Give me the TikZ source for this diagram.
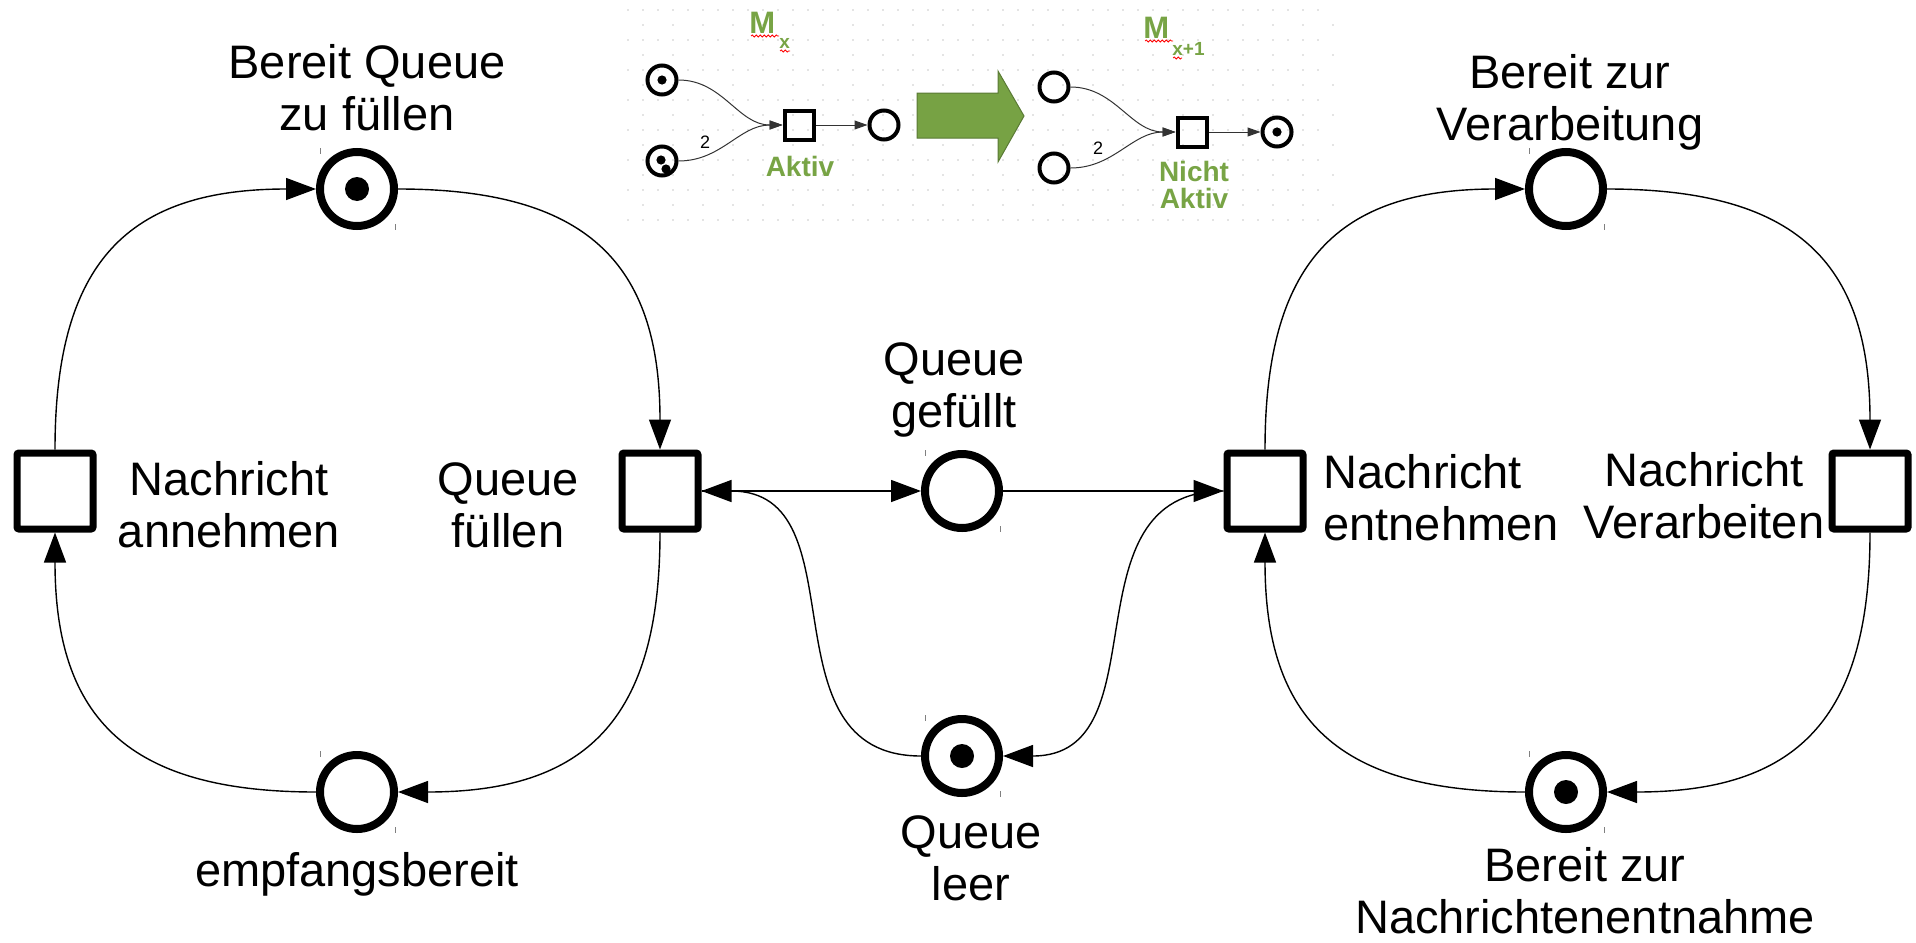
\documentclass[tikz,border=0pt]{standalone}
\usepackage{fontspec}
\setmainfont{Liberation Sans}
\usetikzlibrary{arrows.meta,decorations.pathmorphing}
\definecolor{lgreen}{HTML}{78A445}
\definecolor{agreen}{HTML}{77A244}
\definecolor{aedge}{HTML}{5A7A35}
\definecolor{dotc}{HTML}{C8C8C8}
\begin{document}
\begin{tikzpicture}[x=0.5pt,y=-0.5pt,
  place/.style={circle,draw,line width=4pt,minimum size=37pt,inner sep=0pt},
  trans/.style={rectangle,draw,line width=3.5pt,minimum size=38pt,inner sep=0pt,rounded corners=1pt},
  marked/.style={path picture={\fill (path picture bounding box.center) circle[radius=6pt];}},
  arc/.style={line width=0.7pt,-{Triangle[length=15pt,width=11pt]}},
  loop/.style={arc,looseness=1.3},
  lbl/.style={font=\fontsize{23.5}{26}\selectfont,align=center,inner sep=0pt},
  tick/.style={gray,line width=0.5pt},
  iplace/.style={circle,draw,line width=2pt,minimum size=14.5pt,inner sep=0pt},
  itrans/.style={rectangle,draw,line width=2pt,minimum size=14.5pt,inner sep=0pt},
  itok/.style={path picture={\fill (path picture bounding box.center) circle[radius=2.3pt];}},
  itoktwo/.style={path picture={\fill ([shift={(-1,-1)}]path picture bounding box.center) circle[radius=2.3pt];
                               \fill ([shift={(4,8)}]path picture bounding box.center) circle[radius=2.3pt];}},
  iarc/.style={line width=0.5pt,black!80,-{Triangle[length=6.5pt,width=4.5pt]}},
  ilbl/.style={font=\fontsize{9}{10}\selectfont,inner sep=0pt},
  glbl/.style={font=\fontsize{14}{13.5}\selectfont\bfseries,text=lgreen,align=center,inner sep=0pt},
  wavy/.style={red,line width=0.4pt,decorate,decoration={snake,amplitude=0.5pt,segment length=2pt}}
]
\useasboundingbox (0,0) rectangle (1916,942);
% dotted grid of inset
\foreach \j in {0,...,14}{
  \pgfmathtruncatemacro{\odd}{mod(\j,2)}
  \ifnum\odd=0
    \foreach \i in {0,...,46}{\fill[dotc] (628+15*\i,10+15*\j) circle[radius=0.45pt];}
  \else
    \foreach \i in {0,...,23}{\fill[dotc] (643+30*\i,10+15*\j) circle[radius=0.45pt];}
  \fi
}
% main net
\node[trans] (na) at (55,491) {};
\node[place,marked] (bq) at (357,189) {};
\node[trans] (qf) at (660,491) {};
\node[place] (eb) at (357,792) {};
\node[place] (qg) at (962,491) {};
\node[place,marked] (ql) at (962,756) {};
\node[trans] (ne) at (1265,491) {};
\node[place] (bv) at (1566,189) {};
\node[trans] (nv) at (1870,491) {};
\node[place,marked] (bn) at (1566,792) {};
\foreach \p in {bq,eb,qg,ql,bv,bn}{
  \draw[tick] ([shift={(-37,-41)}]\p.center) -- ++(0,6);
  \draw[tick] ([shift={(38,35)}]\p.center) -- ++(0,6);
}
\draw[loop] (na.north) to[out=90,in=180] (bq.west);
\draw[loop] (bq.east) to[out=0,in=90] (qf.north);
\draw[loop] (qf.south) to[out=-90,in=0] (eb.east);
\draw[loop] (eb.west) to[out=180,in=-90] (na.south);
\draw[loop] (ne.north) to[out=90,in=180] (bv.west);
\draw[loop] (bv.east) to[out=0,in=90] (nv.north);
\draw[loop] (nv.south) to[out=-90,in=0] (bn.east);
\draw[loop] (bn.west) to[out=180,in=-90] (ne.south);
\draw[arc] (qf.east) -- (qg.west);
\draw[arc] (qg.east) -- (ne.west);
\draw[arc] (ql.west) to[out=180,in=0,looseness=1.2] (qf.east);
\draw[arc] (ne.west) to[out=180,in=0,looseness=1.2] (ql.east);
% labels
\node[lbl] (lbq) at (367,88) {Bereit Queue\\zu füllen};
\node[lbl] (lna) at (229,505) {Nachricht\\annehmen};
\node[lbl] (lqf) at (508,505) {Queue\\füllen};
\node[lbl] (lqg) at (954,390) {Queue\\gefüllt};
\node[lbl,align=left,anchor=west] (lne) at (1323,498) {Nachricht\\entnehmen};
\node[lbl] (lnv) at (1704,496) {Nachricht\\Verarbeiten};
\node[lbl] (leb) at (357,874) {empfangsbereit};
\node[lbl] (lql) at (971,858) {Queue\\leer};
\node[lbl] (lbv) at (1570,102) {Bereit zur\\Verarbeitung};
\node[lbl] (lbn) at (1585,891) {Bereit zur\\Nachrichtenentnahme};
% inset
\filldraw[fill=agreen,draw=aedge,line width=0.5pt] (917,93) -- (998,93) -- (998,71) -- (1024,116) -- (998,162) -- (998,138) -- (917,138) -- cycle;
\node[iplace,itok] (a1) at (662,80) {};
\node[iplace,itoktwo] (a2) at (662,161) {};
\node[itrans] (at) at (799,125) {};
\node[iplace] (ao) at (884,125) {};
\draw[iarc] (a1.east) to[out=0,in=180] (at.west);
\draw[iarc] (a2.east) to[out=0,in=180] (at.west);
\draw[iarc] (at.east) -- (ao.west);
\node[ilbl] (a2l) at (705,142) {2};
\node[glbl] (aakt) at (800,166) {Aktiv};
\node[iplace] (b1) at (1054,87) {};
\node[iplace] (b2) at (1054,168) {};
\node[itrans] (bt) at (1192,132) {};
\node[iplace,itok] (bo) at (1277,132) {};
\draw[iarc] (b1.east) to[out=0,in=180] (bt.west);
\draw[iarc] (b2.east) to[out=0,in=180] (bt.west);
\draw[iarc] (bt.east) -- (bo.west);
\node[ilbl] (b2l) at (1098,148) {2};
\node[glbl] (bakt) at (1194,185) {Nicht\\Aktiv};
\node[anchor=base west,inner sep=0pt,font=\fontsize{15.5}{16}\selectfont\bfseries,text=lgreen] (mx) at (749,33) {M};
\node[anchor=base west,inner sep=0pt,font=\fontsize{9.5}{10}\selectfont\bfseries,text=lgreen] (mxs) at (779,48) {x};
\node[anchor=base west,inner sep=0pt,font=\fontsize{15.5}{16}\selectfont\bfseries,text=lgreen] (my) at (1143,38) {M};
\node[anchor=base west,inner sep=0pt,font=\fontsize{9.5}{10}\selectfont\bfseries,text=lgreen] (mys) at (1172,55) {x+1};
\draw[wavy] (751,36) -- (779,36);
\draw[wavy] (780,51) -- (790,51);
\draw[wavy] (1145,41) -- (1173,41);
\draw[wavy] (1173,58) -- (1182,58);
\end{tikzpicture}
\end{document}
